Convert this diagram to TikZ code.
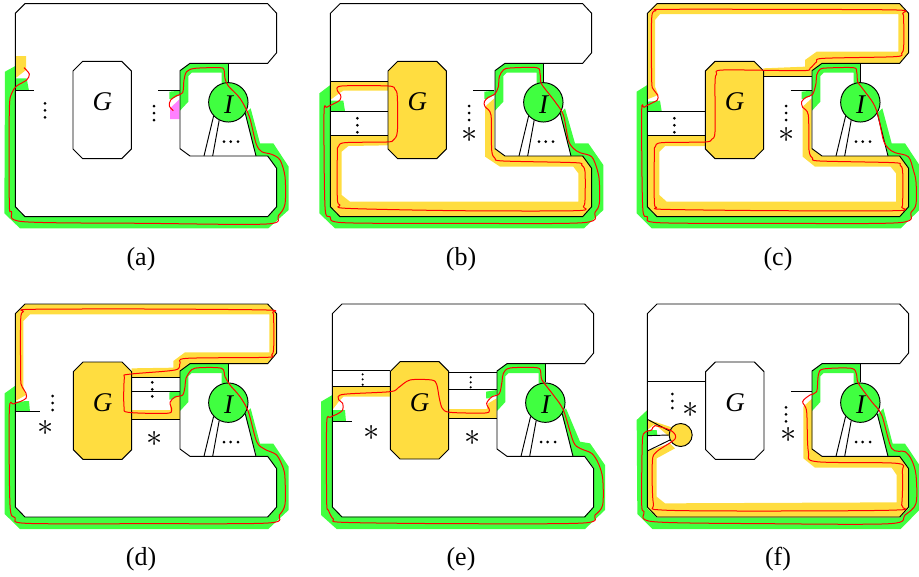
\documentclass[tikz,border=0pt]{standalone}
\usepackage{fontspec}
\setmainfont{Liberation Serif}
\definecolor{grn}{HTML}{40FF40}
\definecolor{ylw}{HTML}{FFDD40}
\definecolor{pnk}{HTML}{FF80FF}
\tikzset{
  x=0.33333pt,y=-0.33333pt,
  gfill/.style={fill=grn,draw=none},
  yfill/.style={fill=ylw,draw=none},
  pfill/.style={fill=pnk,draw=none},
  bline/.style={draw=black,line width=0.95pt,line join=miter},
  redline/.style={draw=red,line width=1pt,line join=round},
  captext/.style={font=\fontsize{26}{26}\selectfont,inner sep=0pt},
  letter/.style={font=\fontsize{27}{27}\selectfont\itshape,inner sep=0pt},
  starmark/.style={inner sep=0pt,scale=1.3,font=\Huge},
  dotmark/.style={fill=black,draw=none}
}
\newcommand{\vdotsat}[2]{\fill[dotmark] (#1,#2) circle (4.5) (#1,#2+21) circle (4.5) (#1,#2+42) circle (4.5);}
\newcommand{\gbox}[3]{% x offset, y offset, fill
  \begin{scope}[shift={(#1,#2)}]
  \draw[bline,fill=#3] (219,213)--(248,184)--(365,184)--(394,213)--(394,447)--(365,476)--(248,476)--(219,447)--cycle;
  \node[letter] at (307,306) {G};
  \end{scope}}
\newcommand{\basefig}[3]{% suffix, x offset, y offset
  \begin{scope}[shift={(#2,#3)}]
  \fill[gfill] (540,212)--(570,190)--(685,190)--(685,250)--(665,250)--(665,218)--(575,218)--(565,228)--(565,305)--(540,332)--cycle;
  \draw[bline] (46,40)--(75,11)--(803,11)--(830,40)--(830,158)--(803,190)--(570,190)--(540,212)--(540,446)--(570,468)--(803,468)--(830,505)--(830,620)--(803,650)--(75,650)--(46,620)--cycle;
  \node[circle,draw=black,line width=0.95pt,fill=grn,minimum size=39.4pt,inner sep=0pt] (I#1) at (685,307) {};
  \coordinate (t#1) at (685,190);
  \coordinate (p#1) at (612,468);
  \coordinate (q#1) at (638,468);
  \coordinate (r#1) at (768,468);
  \draw[bline] (I#1) -- (t#1);
  \draw[bline] (I#1.-137) -- (p#1);
  \draw[bline] (I#1.-117) -- (q#1);
  \draw[bline] (I#1.-33) -- (r#1);
  \node[letter] at (686,314) {I};
  \fill[dotmark] (672,425) circle (4.5) (692,425) circle (4.5) (714,425) circle (4.5);
  \end{scope}}
\begin{document}
\begin{tikzpicture}
\useasboundingbox (0,0) rectangle (2757,1728);
% ---------- (a)
\begin{scope}
\fill[gfill] (15,215)--(46,198)--(46,235)--(80,235)--(87,272)--(46,272)--(46,620)--(75,650)--(803,650)--(830,620)--(830,505)--(803,468)--(768,468)--(735,340)--(752,325)--(780,430)--(820,430)--(866,500)--(866,630)--(805,685)--(60,685)--(13,640)--cycle;
\fill[yfill] (46,168)--(78,168)--(78,210)--(46,235)--cycle;
\fill[gfill] (508,275)--(540,272)--(540,285)--(515,297)--(508,297)--cycle;
\fill[pfill] (510,325)--(538,298)--(538,357)--(510,357)--cycle;
\basefig{a}{0}{0}
\gbox{0}{0}{white}
\draw[bline] (46,272)--(103,272);
\draw[bline] (475,272)--(540,272);
\vdotsat{135}{310}
\vdotsat{462}{318}
\draw[redline] plot[smooth,tension=0.5] coordinates {(72,203)(88,222)(80,240)(50,258)(35,280)(28,330)(28,610)(35,635)(70,665)(440,670)(800,672)(835,647)(855,612)(855,530)(840,480)(815,463)(785,455)(768,430)(748,350)(720,295)(685,258)(675,235)(672,210)(660,203)(585,205)(560,215)(552,240)(548,278)(530,287)(512,300)(508,318)(520,332)};
\end{scope}
% ---------- (b)
\begin{scope}[shift={(930,0)}]
\fill[gfill] (28,280)--(61,255)--(61,302)--(100,302)--(105,333)--(61,333)--(61,620)--(90,650)--(818,650)--(845,620)--(845,505)--(818,468)--(783,468)--(750,340)--(765,325)--(795,430)--(835,430)--(880,495)--(880,630)--(822,685)--(75,685)--(28,640)--cycle;
\fill[yfill] (61,243)--(235,243)--(235,272)--(100,272)--(90,278)--(61,300)--cycle;
\fill[yfill] (61,405)--(235,405)--(235,436)--(115,438)--(95,455)--(95,585)--(120,605)--(805,605)--(805,520)--(790,500)--(570,500)--(525,470)--(525,320)--(553,295)--(553,446)--(583,468)--(818,468)--(845,505)--(845,620)--(818,650)--(90,650)--(61,620)--cycle;
\fill[gfill] (523,275)--(553,272)--(553,285)--(530,297)--(523,297)--cycle;
\basefig{b}{15}{0}
\gbox{15}{0}{ylw}
\draw[bline] (61,243)--(235,243) (61,333)--(235,333) (61,405)--(235,405);
\draw[bline] (490,272)--(553,272);
\vdotsat{142}{355}
\vdotsat{477}{318}
\node[starmark] at (480,405) {$\ast$};
\draw[redline] plot[smooth cycle,tension=0.5] coordinates {(95,258)(235,258)(255,268)(262,290)(262,395)(250,420)(230,426)(105,428)(85,440)(82,460)(82,595)(90,615)(110,625)(440,632)(800,632)(820,620)(825,600)(825,515)(815,495)(795,488)(580,483)(555,475)(545,450)(543,345)(525,320)(523,305)(535,292)(555,282)(565,260)(568,230)(580,210)(600,204)(680,203)(690,220)(692,245)(700,260)(735,305)(760,345)(775,420)(790,445)(810,458)(845,470)(862,510)(868,545)(868,610)(855,637)(820,668)(440,670)(100,668)(60,650)(45,620)(42,340)(50,322)(70,312)(90,300)(92,285)(82,272)};
\end{scope}
% ---------- (c)
\begin{scope}[shift={(1860,0)}]
\fill[gfill] (50,275)--(82,255)--(82,305)--(120,302)--(125,333)--(82,333)--(82,620)--(110,650)--(838,650)--(866,620)--(866,505)--(840,468)--(805,468)--(772,340)--(787,325)--(815,430)--(855,430)--(898,495)--(898,630)--(842,685)--(95,685)--(50,640)--cycle;
\fill[yfill] (82,298)--(82,40)--(110,11)--(838,11)--(866,40)--(866,158)--(838,190)--(605,190)--(575,212)--(575,230)--(430,230)--(430,205)--(555,200)--(555,180)--(590,155)--(835,155)--(835,42)--(120,42)--(105,60)--(105,260)--(115,285)--cycle;
\fill[yfill] (82,405)--(256,405)--(256,438)--(135,438)--(118,455)--(118,585)--(140,605)--(828,605)--(828,520)--(812,500)--(585,500)--(548,470)--(548,320)--(575,295)--(575,446)--(605,468)--(840,468)--(866,505)--(866,620)--(838,650)--(110,650)--(82,620)--cycle;
\fill[gfill] (545,275)--(575,272)--(575,285)--(552,297)--(545,297)--cycle;
\basefig{c}{36}{0}
\gbox{37}{0}{ylw}
\draw[bline] (82,333)--(256,333) (82,405)--(256,405) (430,230)--(575,230);
\draw[bline] (512,272)--(575,272);
\vdotsat{163}{355}
\vdotsat{498}{318}
\node[starmark] at (501,405) {$\ast$};
\draw[redline] plot[smooth cycle,tension=0.5] coordinates {(95,55)(108,32)(130,28)(460,28)(830,30)(848,40)(851,60)(851,140)(845,160)(825,170)(610,175)(590,185)(570,205)(545,212)(310,210)(290,222)(285,250)(285,395)(275,418)(255,426)(125,428)(106,440)(103,460)(103,605)(110,622)(130,628)(460,632)(830,632)(845,622)(848,605)(848,515)(840,495)(820,488)(600,483)(578,475)(567,450)(565,345)(548,322)(545,305)(558,292)(578,283)(588,250)(590,225)(600,208)(620,204)(700,203)(710,215)(713,245)(725,262)(760,310)(775,350)(790,420)(805,445)(825,458)(865,470)(880,510)(888,545)(888,612)(873,637)(838,668)(460,670)(115,668)(82,650)(68,620)(65,335)(72,322)(90,312)(112,300)(113,285)(100,268)(95,240)};
\end{scope}
% ---------- (d)
\begin{scope}[shift={(0,885)}]
\fill[gfill] (14,295)--(46,272)--(46,320)--(87,318)--(90,350)--(46,350)--(46,636)--(75,666)--(803,666)--(830,636)--(830,520)--(803,485)--(770,485)--(735,355)--(752,340)--(780,446)--(820,446)--(866,515)--(866,645)--(805,702)--(60,702)--(14,657)--cycle;
\fill[yfill] (46,318)--(46,55)--(75,27)--(803,27)--(830,55)--(830,175)--(803,207)--(570,207)--(540,230)--(540,248)--(395,248)--(395,220)--(520,218)--(520,198)--(555,172)--(808,172)--(808,58)--(90,58)--(70,78)--(70,275)--(78,300)--cycle;
\fill[yfill] (395,345)--(510,345)--(512,320)--(540,295)--(540,372)--(395,372)--cycle;
\fill[gfill] (508,292)--(540,289)--(540,302)--(515,314)--(508,314)--cycle;
\basefig{d}{0}{16}
\gbox{1}{17}{ylw}
\draw[bline] (395,248)--(540,248) (395,289)--(540,289) (395,372)--(540,372);
\draw[bline] (46,350)--(120,350);
\vdotsat{158}{303}
\vdotsat{457}{262}
\node[starmark] at (138,398) {$\ast$};
\node[starmark] at (465,432) {$\ast$};
\draw[redline] plot[smooth cycle,tension=0.5] coordinates {(800,187)(560,190)(540,205)(525,225)(385,238)(373,250)(372,335)(385,352)(500,355)(515,345)(510,322)(525,306)(548,300)(555,275)(558,250)(575,224)(600,218)(665,220)(675,245)(690,270)(720,305)(745,350)(770,440)(795,463)(830,480)(850,520)(855,550)(855,628)(838,660)(805,684)(440,686)(80,685)(45,668)(30,630)(28,345)(40,327)(60,320)(78,310)(78,295)(65,272)(62,245)(62,75)(70,50)(90,43)(440,42)(800,45)(818,52)(821,70)(821,160)(815,180)};
\end{scope}
% ---------- (e)
\begin{scope}[shift={(930,885)}]
\fill[gfill] (33,320)--(67,300)--(67,345)--(105,345)--(108,380)--(67,380)--(67,635)--(97,665)--(823,665)--(852,635)--(852,520)--(825,483)--(790,483)--(755,355)--(768,340)--(810,440)--(840,445)--(885,510)--(885,645)--(825,702)--(80,702)--(33,660)--cycle;
\fill[yfill] (67,273)--(241,273)--(241,305)--(100,305)--(90,315)--(67,345)--cycle;
\fill[yfill] (416,342)--(530,342)--(535,325)--(560,310)--(560,370)--(416,370)--cycle;
\fill[gfill] (528,290)--(560,285)--(560,298)--(535,310)--(528,310)--cycle;
\basefig{e}{21}{16}
\gbox{22}{16}{ylw}
\draw[bline] (67,226)--(241,226) (67,273)--(241,273) (416,231)--(560,231) (416,283)--(560,283) (416,370)--(560,370);
\draw[bline] (67,380)--(126,380);
\fill[dotmark] (158,238) circle (3.5) (158,253) circle (3.5) (158,269) circle (3.5);
\fill[dotmark] (482,247) circle (3.5) (482,262) circle (3.5) (482,277) circle (3.5);
\node[starmark] at (186,413) {$\ast$};
\node[starmark] at (487,428) {$\ast$};
\draw[redline] plot[smooth cycle,tension=0.5] coordinates {(100,298)(240,290)(265,278)(300,255)(365,255)(380,268)(388,310)(397,340)(420,352)(525,354)(538,345)(530,325)(545,306)(568,296)(576,260)(580,235)(600,219)(680,218)(692,230)(696,255)(730,300)(760,345)(790,440)(810,460)(845,475)(865,505)(878,550)(878,630)(855,660)(820,684)(440,686)(100,682)(70,672)(55,645)(50,620)(50,385)(60,367)(80,358)(98,345)(98,325)(85,312)};
\end{scope}
% ---------- (f)
\begin{scope}[shift={(1860,885)}]
\fill[gfill] (50,375)--(82,345)--(82,640)--(110,667)--(840,667)--(866,640)--(866,520)--(840,485)--(805,485)--(772,360)--(790,340)--(818,446)--(855,446)--(898,510)--(898,645)--(842,702)--(97,702)--(52,657)--cycle;
\fill[gfill] (82,405)--(110,405)--(112,422)--(82,422)--cycle;
\fill[yfill] (82,373)--(155,397)--(148,425)--(115,397)--(100,390)--(82,405)--cycle;
\fill[yfill] (82,468)--(150,445)--(165,460)--(110,490)--(110,605)--(135,625)--(830,622)--(830,540)--(815,518)--(585,518)--(550,490)--(550,335)--(577,310)--(577,462)--(605,485)--(840,485)--(866,520)--(866,640)--(840,667)--(110,667)--(82,640)--cycle;
\basefig{f}{36}{16}
\gbox{38}{17}{white}
\node[circle,draw=black,line width=0.95pt,fill=ylw,minimum size=23pt,inner sep=0pt] (s) at (182,420) {};
\coordinate (l1) at (82,373);
\coordinate (l2) at (82,422);
\coordinate (l3) at (82,468);
\draw[bline] (l1)--(s.160) (l2)--(s.180) (l3)--(s.205);
\draw[bline] (82,258)--(257,258);
\draw[bline] (514,289)--(577,289);
\vdotsat{157}{297}
\vdotsat{498}{337}
\node[starmark] at (212,345) {$\ast$};
\node[starmark] at (505,420) {$\ast$};
\draw[redline] plot[smooth cycle,tension=0.5] coordinates {(165,432)(155,408)(105,392)(95,405)(75,412)(67,440)(65,625)(72,650)(100,680)(440,686)(810,686)(855,660)(888,625)(888,540)(875,495)(855,470)(815,460)(785,360)(755,320)(715,265)(710,240)(695,220)(610,222)(595,240)(590,290)(570,300)(548,320)(560,350)(565,470)(590,500)(830,505)(847,530)(845,630)(830,645)(440,648)(125,645)(100,625)(97,500)(110,470)};
\end{scope}
% ---------- captions
\node[captext] (capa) at (141*3,259*3) {(a)};
\node[captext] (capb) at (461*3,259*3) {(b)};
\node[captext] (capc) at (778*3,259*3) {(c)};
\node[captext] (capd) at (141*3,559*3) {(d)};
\node[captext] (cape) at (461*3,559*3) {(e)};
\node[captext] (capf) at (778*3,559*3) {(f)};
\end{tikzpicture}
\end{document}
